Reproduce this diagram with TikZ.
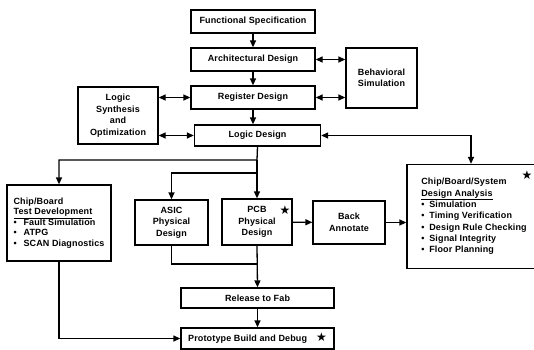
\documentclass[tikz,border=0pt]{standalone}
\usepackage{fontspec}
\setmainfont{Liberation Sans}[LetterSpace=1.5]
\newfontfamily\starfont{DejaVu Sans}
\usetikzlibrary{arrows.meta,calc}

\begin{document}
\begin{tikzpicture}[x=1bp, y=-1bp,
  box/.style={draw, line width=1.3bp, align=center, inner sep=0pt,
    font=\fontsize{9bp}{11.5bp}\selectfont\bfseries},
  listbox/.style={box, align=left, font=\fontsize{9bp}{10.5bp}\selectfont\bfseries},
  arr/.style={line width=1.3bp, -{Triangle[length=7bp,width=6bp]}},
  darr/.style={line width=1.3bp, {Triangle[length=7bp,width=6bp]}-{Triangle[length=7bp,width=6bp]}},
  wire/.style={line width=1.3bp},
  starmark/.style={inner sep=0pt, font=\starfont\fontsize{12bp}{12bp}\selectfont}]
\useasboundingbox (0,0) rectangle (534,349);
\node[box, minimum width=124bp, minimum height=23bp] (spec) at (253,21.5) {Functional Specification};
\node[box, minimum width=124bp, minimum height=23bp] (arch) at (253,59.5) {Architectural Design};
\node[box, minimum width=124bp, minimum height=23bp] (reg) at (253,97.5) {Register Design};
\node[box, minimum width=71bp, minimum height=60bp] (behav) at (381.5,78) {Behavioral\\Simulation};
\node[box, minimum width=80bp, minimum height=57bp] (synth) at (118,115.5) {Logic\\Synthesis\\and\\Optimization};
\node[box, minimum width=126bp, minimum height=21bp] (logic) at (257.5,135.5) {Logic Design};
\node[listbox, minimum width=104bp, minimum height=76bp] (test) at (59,223)
  {Chip/Board\\\underline{Test Development}\\\makebox[10bp][l]{•}Fault Simulation\\\makebox[10bp][l]{•}ATPG\\\makebox[10bp][l]{•}SCAN Diagnostics};
\node[box, minimum width=73bp, minimum height=45bp] (asic) at (171.5,222.5) {ASIC\\Physical\\Design};
\node[box, minimum width=70bp, minimum height=46bp] (pcb) at (257,222) {PCB\\Physical\\Design};
\node[box, minimum width=72bp, minimum height=43bp] (back) at (349,222.5) {Back\\Annotate};
\node[box, align=left, font=\fontsize{9bp}{11.3bp}\selectfont\bfseries, minimum width=134bp, minimum height=104bp] (cbs) at (474,216.5)
  {Chip/Board/System\\\underline{Design Analysis}\\\makebox[8bp][l]{•}Simulation\\\makebox[8bp][l]{•}Timing Verification\\\makebox[8bp][l]{•}Design Rule Checking\\\makebox[8bp][l]{•}Signal Integrity\\\makebox[8bp][l]{•}Floor Planning};
\node[box, minimum width=153bp, minimum height=20bp] (rel) at (257.5,298) {Release to Fab};
\node[box, minimum width=153bp, minimum height=21bp] (proto) at (257.5,338.5) {Prototype Build and Debug\quad{\starfont\fontsize{12bp}{12bp}\selectfont ★}};
\node[starmark] (pcbstar) at (285,210) {★};
\node[starmark] (cbsstar) at (527,175) {★};
\coordinate (fork) at (257,160);
\coordinate (fork2) at (257,173);
\coordinate (join) at (257,264);
\draw[arr] (spec) -- (arch);
\draw[arr] (arch) -- (reg);
\draw[arr] (reg.south) -- (reg.south |- logic.north);
\draw[darr] (arch.east) -- (arch.east -| behav.west);
\draw[darr] (reg.east) -- (reg.east -| behav.west);
\draw[darr] (synth.east |- reg.east) -- (reg.west);
\draw[darr] (synth.east |- logic.west) -- (logic.west);
\draw[darr] (logic.east) -| ([xshift=-3bp]cbs.north);
\draw[arr] (logic.south) -- (fork) -| (test.north);
\draw[arr] (fork) -- (pcb.north);
\draw[arr] (fork2) -| (asic.north);
\draw[arr] (pcb) -- (back);
\draw[arr] (back) -- (back.east -| cbs.west);
\draw[wire] (asic.south) |- (join);
\draw[arr] (pcb.south) -- (rel.north);
\draw[arr] (rel) -- (proto);
\draw[arr] (test.south) |- (proto.west);
\end{tikzpicture}
\end{document}
